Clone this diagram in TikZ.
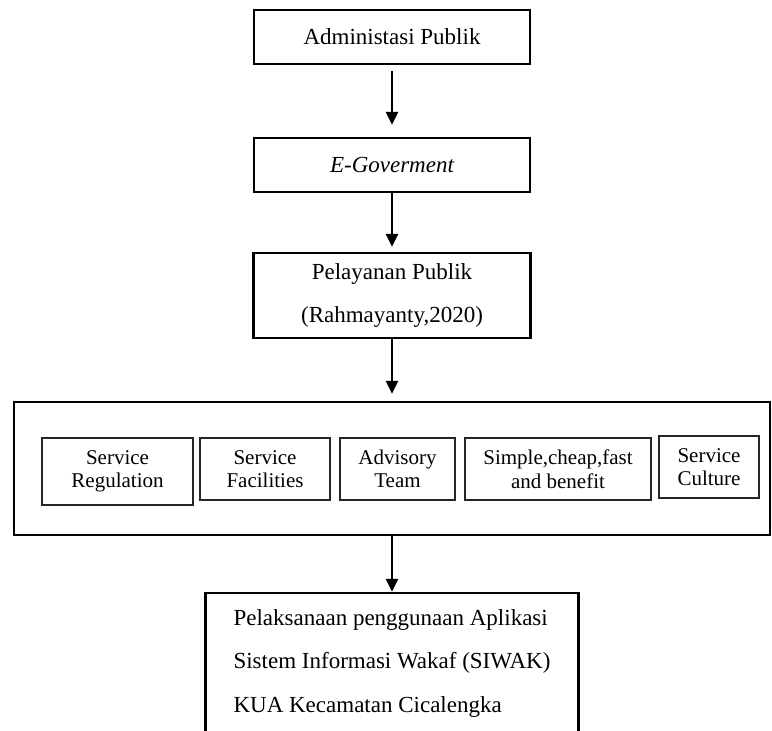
\documentclass[tikz,border=0pt]{standalone}
\usepackage{fontspec}
\setmainfont{Liberation Serif}
\usetikzlibrary{arrows.meta,positioning}

\begin{document}
\begin{tikzpicture}[
  x=1pt, y=-1pt,
  >={Triangle[length=13pt,width=12pt]},
  font=\fontsize{23}{43.5}\selectfont,
  box/.style={rectangle, draw=black, line width=2.4pt, align=center,
              inner sep=0pt, minimum width=276pt, minimum height=54pt},
  item/.style={rectangle, draw=black!85, line width=1.6pt, align=center,
               inner sep=0pt, minimum height=62pt,
               font=\fontsize{21}{23.5}\selectfont},
  arr/.style={->, line width=2.4pt}
]
\useasboundingbox (0,0) rectangle (772,731);
% --- alur utama ---
\node[box] (admin) at (392,37)  {Administasi Publik};
\node[box] (egov)  at (392,165) {\itshape E-Goverment};
\node[box, minimum width=277pt, minimum height=85pt] (pelayanan) at (392,295.5)
      {Pelayanan Publik\\(Rahmayanty,2020)};
% --- indikator pelayanan ---
\node[box, minimum width=756pt, minimum height=133pt] (indikator) at (392,468.5) {};
\node[item, minimum width=151pt, minimum height=67pt] (regulation) at (117.5,471.5) {Service\\Regulation};
\node[item, minimum width=130pt] (facilities) at (265,469)   {Service\\Facilities};
\node[item, minimum width=115pt] (advisory)   at (397.5,469) {Advisory\\Team};
\node[item, minimum width=186pt] (simple)     at (558,469)   {Simple,cheap,fast\\and benefit};
\node[item, minimum width=100pt] (culture)    at (709,467)   {Service\\Culture};
% --- hasil ---
\node[box, minimum width=373pt, minimum height=140pt, align=left] (siwak) at (392,663)
      {Pelaksanaan penggunaan Aplikasi\\Sistem Informasi Wakaf (SIWAK)\\KUA Kecamatan Cicalengka};
\draw[arr, shorten <=6pt, shorten >=12pt] (admin) -- (egov);
\draw[arr, shorten >=5pt] (egov) -- (pelayanan);
\draw[arr, shorten >=7pt] (pelayanan) -- (indikator);
\draw[arr] (indikator) -- (siwak);
\end{tikzpicture}
\end{document}
